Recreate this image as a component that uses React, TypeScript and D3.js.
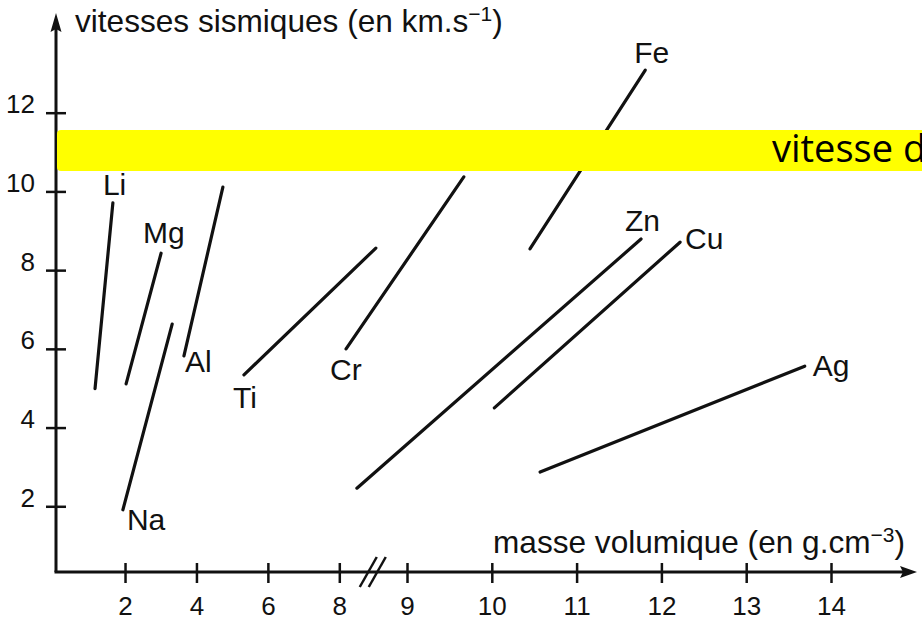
import React, { useEffect, useRef } from "react";
import * as d3 from "d3";

// metals, one segment each (density in g.cm-3, seismic speed in km.s-1)
const metals = ["Li", "Mg", "Al", "Na", "Ti", "Cr", "Fe", "Zn", "Cu", "Ag"];
const densityFrom = [1.16, 2.03, 3.65, 1.94, 5.33, 8.1, 10.45, 8.26, 10.03, 10.57];
const densityTo = [1.66, 3.01, 4.74, 3.32, 8.54, 9.67, 11.81, 11.76, 12.22, 13.69];
const speedFrom = [4.99, 5.11, 5.82, 1.91, 5.34, 6.0, 8.54, 2.46, 4.5, 2.87];
const speedTo = [9.71, 8.43, 10.11, 6.63, 8.56, 10.37, 13.08, 8.79, 8.71, 5.56];
// which end of the segment carries the name
const labelAt = ["to", "to", "from", "from", "from", "from", "to", "to", "to", "to"];

const xTicks = [2, 4, 6, 8, 9, 10, 11, 12, 13, 14];
const yTicks = [2, 4, 6, 8, 10, 12];

const yTitle = "vitesses sismiques (en km.s";
const yTitleExp = "−1";
const xTitle = "masse volumique (en g.cm";
const xTitleExp = "−3";
const bandText = "vitesse dans le noyau";

// label offsets from the segment end, in px
const labelShift: Record<string, [number, number]> = {
  Li: [-10, -8], Mg: [-18, -10], Al: [1, 16], Na: [4, 20], Ti: [-11, 33],
  Cr: [-16, 31], Fe: [-11, -7], Zn: [-16, -8], Cu: [5, 7], Ag: [8, 10],
};

const W = 922;
const H = 622;
const FONT = "'Liberation Sans', Arial, sans-serif";
const INK = "#111";

function Chart() {
  const ref = useRef<SVGSVGElement>(null);

  useEffect(() => {
    const svg = d3.select(ref.current);
    svg.selectAll("*").remove();

    // broken axis : 0-8 compressed, then 9-14
    const x = d3.scaleLinear().domain([0, 8, 9, 14]).range([53.6, 339.3, 407, 831]);
    const y = d3.scaleLinear().domain([0, 12]).range([585, 112.7]);
    const axisY = 572;
    const axisX = 56;

    svg.append("rect").attr("width", W).attr("height", H).attr("fill", "#fff");

    // x axis
    const gx = svg.append("g").attr("transform", `translate(0,${axisY})`)
      .call(d3.axisBottom(x).tickValues(xTicks).tickFormat(d3.format("d")).tickSizeOuter(0));
    gx.select(".domain").remove();
    gx.selectAll(".tick line").attr("y1", -9).attr("y2", 11).attr("stroke", INK).attr("stroke-width", 2.5);
    gx.selectAll(".tick text").attr("y", 43).attr("dy", null)
      .attr("font-size", 26).attr("font-family", FONT).attr("fill", INK);

    svg.append("line").attr("x1", axisX - 1.5).attr("x2", 905).attr("y1", axisY).attr("y2", axisY)
      .attr("stroke", INK).attr("stroke-width", 3);
    svg.append("path").attr("d", `M917,${axisY}L900,${axisY - 6}L903,${axisY}L900,${axisY + 6}Z`).attr("fill", INK);

    // break marks
    const bx = x(8.45);
    [-10, -1].forEach((o) => {
      svg.append("line").attr("x1", bx + o).attr("y1", axisY + 15).attr("x2", bx + o + 17).attr("y2", axisY - 15)
        .attr("stroke", INK).attr("stroke-width", 2.5);
    });

    // y axis
    const gy = svg.append("g").attr("transform", `translate(${axisX},0)`)
      .call(d3.axisLeft(y).tickValues(yTicks).tickFormat(d3.format("d")).tickSizeOuter(0));
    gy.select(".domain").remove();
    gy.selectAll(".tick line").attr("x1", -10).attr("x2", 10).attr("stroke", INK).attr("stroke-width", 2.5);
    gy.selectAll(".tick text").attr("x", -21).attr("dy", null)
      .attr("font-size", 26).attr("font-family", FONT).attr("fill", INK);

    svg.append("line").attr("x1", axisX).attr("x2", axisX).attr("y1", axisY).attr("y2", 28)
      .attr("stroke", INK).attr("stroke-width", 3);
    svg.append("path").attr("d", `M${axisX},13L${axisX - 5.5},32L${axisX},29L${axisX + 5.5},32Z`).attr("fill", INK);

    // axis titles
    const yt = svg.append("text").attr("x", 75).attr("y", 32)
      .attr("font-size", 31.6).attr("font-family", FONT).attr("fill", INK);
    yt.append("tspan").text(yTitle);
    yt.append("tspan").attr("font-size", 21).attr("dy", -11).text(yTitleExp);
    yt.append("tspan").attr("dy", 11).text(")");

    const xt = svg.append("text").attr("x", 493).attr("y", 553)
      .attr("font-size", 31.6).attr("font-family", FONT).attr("fill", INK);
    xt.append("tspan").text(xTitle);
    xt.append("tspan").attr("font-size", 21).attr("dy", -11).text(xTitleExp);
    xt.append("tspan").attr("dy", 11).text(")");

    // segments
    const rows = metals.map((m, i) => ({
      name: m,
      x0: densityFrom[i], y0: speedFrom[i],
      x1: densityTo[i], y1: speedTo[i],
      at: labelAt[i],
    }));

    svg.append("g").selectAll("line").data(rows).enter().append("line")
      .attr("x1", (d) => x(d.x0)).attr("y1", (d) => y(d.y0))
      .attr("x2", (d) => x(d.x1)).attr("y2", (d) => y(d.y1))
      .attr("stroke", INK).attr("stroke-width", 3.2).attr("stroke-linecap", "round");

    svg.append("g").selectAll("text").data(rows).enter().append("text")
      .attr("x", (d) => x(d.at === "to" ? d.x1 : d.x0) + labelShift[d.name][0])
      .attr("y", (d) => y(d.at === "to" ? d.y1 : d.y0) + labelShift[d.name][1])
      .attr("font-size", 30).attr("font-family", FONT).attr("fill", INK)
      .text((d) => d.name);

    // yellow band over the chart
    svg.append("rect").attr("x", axisX + 1).attr("y", 130).attr("width", 880).attr("height", 41)
      .attr("rx", 4).attr("fill", "#ffff00");
    svg.append("text").attr("x", 772).attr("y", 162)
      .attr("font-size", 38).attr("font-family", "'Open Sans', 'Noto Sans', sans-serif").attr("fill", "#000")
      .text(bandText);
  }, []);

  return (
    <svg ref={ref} width={W} height={H} style={{ position: "absolute", left: 0, top: 0 }} />
  );
}

export default function App() {
  return <Chart />;
}
